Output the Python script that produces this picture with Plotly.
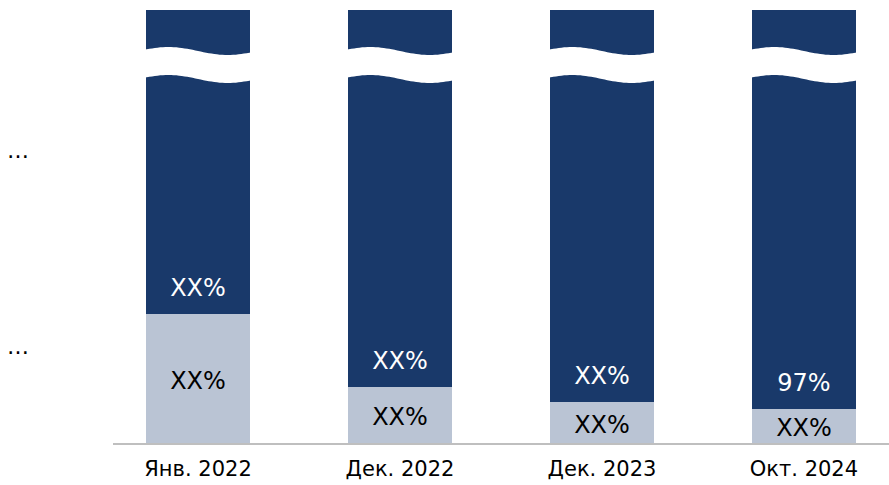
import numpy as np
import plotly.graph_objects as go

# ---- data ----
categories = ["Янв. 2022", "Дек. 2022", "Дек. 2023", "Окт. 2024"]
light_share = [29.8, 12.9, 9.5, 7.9]          # lower (light) segment, visual scale
dark_share = [100 - v for v in light_share]   # upper (dark) segment, broken axis
light_labels = ["XX%", "XX%", "XX%", "XX%"]
dark_labels = ["XX%", "XX%", "XX%", "97%"]
series_names = ["…", "…"]                      # dark, light

DARK = "#19396A"
LIGHT = "#BAC4D4"
FONT = "DejaVu Sans"

x = list(range(len(categories)))
bar_w = 0.515

fig = go.Figure()
fig.add_trace(go.Bar(x=x, y=light_share, width=bar_w, marker=dict(color=LIGHT, line=dict(width=0)),
                     name=series_names[1], hoverinfo="skip"))
fig.add_trace(go.Bar(x=x, y=dark_share, width=bar_w, marker=dict(color=DARK, line=dict(width=0)),
                     name=series_names[0], hoverinfo="skip"))

# labels
fig.add_trace(go.Scatter(x=x, y=[v / 2 - 1.0 for v in light_share], mode="text", text=light_labels,
                         textposition="middle center",
                         textfont=dict(family=FONT, size=24, color="black"), hoverinfo="skip"))
fig.add_trace(go.Scatter(x=x, y=[v + 5.5 for v in light_share], mode="text", text=dark_labels,
                         textposition="middle center",
                         textfont=dict(family=FONT, size=24, color="white"), hoverinfo="skip"))

# wave break (white band) across each bar
px_per_unit = 433 / 100.0
amp = 4 / px_per_unit
top_mid = 100 - 41 / px_per_unit
gap = 28 / px_per_unit
t = np.linspace(0, 1, 41)
wave = amp * np.sin(2 * np.pi * (t + 0.05) / 1.1)
for xi in x:
    x0 = xi - bar_w / 2 - 0.01
    xs = x0 + t * (bar_w + 0.02)
    top = top_mid + wave
    bot = top_mid - gap + wave
    pts = [f"{a:.4f},{b:.4f}" for a, b in zip(xs, top)]
    pts += [f"{a:.4f},{b:.4f}" for a, b in zip(xs[::-1], bot[::-1])]
    path = "M " + " L ".join(pts) + " Z"
    fig.add_shape(type="path", path=path, xref="x", yref="y",
                  fillcolor="white", line=dict(width=0), layer="above")

# legend placeholders
fig.add_annotation(x=-0.1224, y=(443 - 151) / 433, xref="paper", yref="paper", text=series_names[0],
                   showarrow=False, font=dict(family=FONT, size=22, color="black"),
                   xanchor="center", yanchor="middle")
fig.add_annotation(x=-0.1224, y=(443 - 346) / 433, xref="paper", yref="paper", text=series_names[1],
                   showarrow=False, font=dict(family=FONT, size=22, color="black"),
                   xanchor="center", yanchor="middle")

fig.update_layout(
    width=889, height=485,
    margin=dict(l=113, r=0, t=10, b=42),
    barmode="stack", bargap=0,
    showlegend=False,
    plot_bgcolor="white", paper_bgcolor="white",
    font=dict(family=FONT, color="black"),
    xaxis=dict(range=[-0.421, 3.421], tickmode="array", tickvals=x, ticktext=categories,
               showline=True, linecolor="#BFBFBF", linewidth=2, showgrid=False, zeroline=False,
               ticks="", ticklabelstandoff=6,
               tickfont=dict(family=FONT, size=21, color="black"), fixedrange=True),
    yaxis=dict(range=[0, 100], visible=False, showgrid=False, zeroline=False, fixedrange=True),
)

fig.write_html("out.html", config={"displayModeBar": False},
               post_script="document.body.style.margin='0';document.body.style.overflow='hidden';")
